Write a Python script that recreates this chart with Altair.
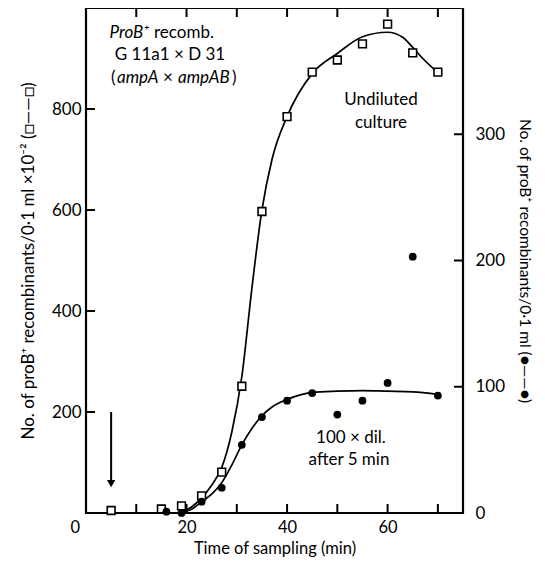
import altair as alt
import pandas as pd

# Undiluted culture (left axis, x10^-2)
sq_t = [5, 15, 19, 23, 27, 31, 35, 40, 45, 50, 55, 60, 65, 70]
sq_v = [5, 8, 14, 34, 81, 251, 597, 785, 873, 897, 929, 968, 911, 873]
# 100x dil. after 5 min (right axis)
dot_t = [16, 19, 23, 27, 31, 35, 40, 45, 50, 55, 60, 65, 70]
dot_v = [1, 0, 9, 20, 54, 76, 89, 95, 78, 89, 103, 203, 93]
# fitted curves as drawn
sq_curve_t = [18, 21, 23, 25, 27, 29, 31, 33, 35, 37, 40, 45, 50, 55, 60, 63, 65, 67, 70]
sq_curve_v = [0, 12, 30, 55, 90, 160, 270, 445, 600, 700, 785, 870, 910, 943, 952, 942, 922, 900, 872]
dot_curve_t = [18, 21, 23, 25, 27, 29, 31, 33, 35, 37, 40, 43, 45, 50, 55, 60, 65, 70]
dot_curve_v = [0, 3, 9, 15, 24, 38, 54, 67, 77, 84, 90, 94, 95.5, 96.5, 97, 96.5, 96, 94]

x_ticks = [10, 20, 30, 40, 50, 60, 70]
x_labels = [0, 20, 40, 60]
left_ticks = [200, 400, 600, 800]
right_ticks = [100, 200, 300]
right_labels = [0, 100, 200, 300]
arrow_t = [5]
arrow_top = [200]
arrow_bottom = [58]

W, H = 377, 505
FONT = "Lato"
TL = 9

xs = alt.Scale(domain=[0, 75], nice=False, zero=False)
ls = alt.Scale(domain=[0, 1000], nice=False)
rs = alt.Scale(domain=[0, 400], nice=False)

sq = pd.DataFrame({"t": sq_t, "v": sq_v})
dots = pd.DataFrame({"t": dot_t, "v": dot_v})
sqc = pd.DataFrame({"t": sq_curve_t, "v": sq_curve_v})
dotc = pd.DataFrame({"t": dot_curve_t, "v": dot_curve_v})

x_axis = alt.Axis(values=x_labels, title="Time of sampling (min)", ticks=False, domain=False,
                  grid=False, labelPadding=6, titlePadding=5, labelFontSize=16.5, titleFontSize=16.5,
                  labelOffset={"condition": {"test": "datum.value === 0", "value": -16}, "value": 0})


def X(field="t"):
    return alt.X(f"{field}:Q", scale=xs, axis=x_axis)


sq_line = alt.Chart(sqc).mark_line(color="black", strokeWidth=1.7, interpolate="monotone").encode(
    x=X(),
    y=alt.Y("v:Q", scale=ls, axis=alt.Axis(values=left_ticks, orient="left", ticks=False, domain=False,
            grid=False, labelPadding=5, titlePadding=14,
            title="No. of proB⁺ recombinants/0·1 ml ×10⁻² (□——□)")),
)
sq_pts = alt.Chart(sq).mark_point(shape="square", filled=True, fill="white", stroke="black",
                                  strokeWidth=1.6, size=60, opacity=1).encode(
    x=X(),
    y=alt.Y("v:Q", scale=ls, axis=None),
)
dot_line = alt.Chart(dotc).mark_line(color="black", strokeWidth=1.7, interpolate="monotone").encode(
    x=X(),
    y=alt.Y("v:Q", scale=rs, axis=alt.Axis(values=right_labels, orient="right", ticks=False, domain=False,
            grid=False, labelPadding=12, titlePadding=12, titleFontSize=15.5,
            title="No. of proB⁺ recombinants/0·1 ml (●——●)")),
)
dot_pts = alt.Chart(dots).mark_circle(color="black", size=60, opacity=1).encode(
    x=X(),
    y=alt.Y("v:Q", scale=rs, axis=None),
)

# inward ticks
bt = alt.Chart(pd.DataFrame({"t": x_ticks})).mark_rule(color="black", strokeWidth=2).encode(
    x=X(), y=alt.value(H), y2=alt.value(H - TL))
tt = alt.Chart(pd.DataFrame({"t": x_ticks})).mark_rule(color="black", strokeWidth=2).encode(
    x=X(), y=alt.value(0), y2=alt.value(TL))
lt = alt.Chart(pd.DataFrame({"v": left_ticks})).mark_rule(color="black", strokeWidth=2).encode(
    y=alt.Y("v:Q", scale=ls, axis=None), x=alt.value(0), x2=alt.value(TL))
rt = alt.Chart(pd.DataFrame({"v": right_ticks})).mark_rule(color="black", strokeWidth=2).encode(
    y=alt.Y("v:Q", scale=rs, axis=None), x=alt.value(W), x2=alt.value(W - TL))

arrow_df = pd.DataFrame({"t": arrow_t, "top": arrow_top, "bot": arrow_bottom})
arrow = alt.Chart(arrow_df).mark_rule(color="black", strokeWidth=2).encode(
    x=X(),
    y=alt.Y("top:Q", scale=ls, axis=None), y2="bot:Q")
head = alt.Chart(arrow_df).mark_point(shape="triangle-down", filled=True, color="black",
                                      size=70, opacity=1).encode(
    x=X(),
    y=alt.Y("bot:Q", scale=ls, axis=None))

# (text, x, y, style, align)
notes = [
    ("ProB⁺", 63, 25, "italic", "right"),
    ("recomb.", 68, 25, "normal", "left"),
    ("G 11a1 × D 31", 84, 47, "normal", "center"),
    ("(", 25, 70, "normal", "left"),
    ("ampA", 31, 70, "italic", "left"),
    ("×", 82, 70, "normal", "center"),
    ("ampAB", 92, 70, "italic", "left"),
    (")", 146, 70, "normal", "left"),
    ("Undiluted", 295, 92, "normal", "center"),
    ("culture", 295, 115, "normal", "center"),
    ("100 × dil.", 265, 430, "normal", "center"),
    ("after 5 min", 263, 452, "normal", "center"),
]
note_layers = []
for txt, px, py, st, al in notes:
    note_layers.append(
        alt.Chart(pd.DataFrame({"label": [txt]})).mark_text(
            font=FONT, fontSize=17, fontStyle=st, color="black", align=al, baseline="middle"
        ).encode(text="label:N", x=alt.value(px), y=alt.value(py))
    )

chart = alt.layer(sq_line, dot_line, sq_pts, dot_pts, bt, tt, lt, rt, arrow, head, *note_layers).resolve_scale(
    y="independent"
).properties(
    width=W, height=H,
    autosize=alt.AutoSizeParams(type="none"),
    padding={"left": 78, "top": 0, "right": 72, "bottom": 51},
).configure_view(
    stroke="black", strokeWidth=2.2
).configure_axis(
    labelFont=FONT, titleFont=FONT, labelFontSize=17, titleFontSize=17,
    labelColor="black", titleColor="black", titleFontWeight="normal",
)

chart.save("out.html", embed_options={"renderer": "svg", "actions": False})
